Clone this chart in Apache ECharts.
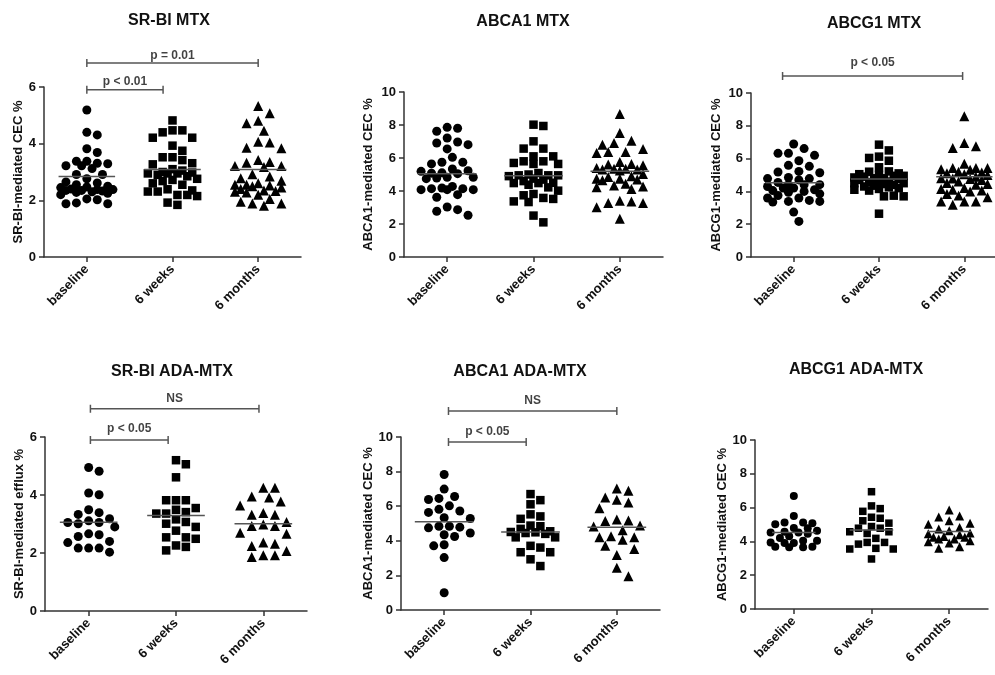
<!DOCTYPE html>
<html><head><meta charset="utf-8">
<script src="https://cdn.jsdelivr.net/npm/echarts@6/dist/echarts.min.js"></script>
<style>html,body{margin:0;padding:0;background:#fff}#c{width:995px;height:675px}</style>
</head><body><div id="c"></div>
<script>
const categories = ['baseline', '6 weeks', '6 months'];
const yTicksStep = 2;

// ---- SR-BI MTX ----
const srbiMtxBaseline = [5.19, 4.40, 4.31, 3.82, 3.69, 3.38, 3.38, 3.31, 3.29, 3.22, 3.22, 3.12, 2.91, 2.91, 2.76, 2.65, 2.61, 2.55, 2.50, 2.47, 2.45, 2.40, 2.38, 2.38, 2.35, 2.35, 2.33, 2.30, 2.28, 2.25, 2.20, 2.05, 2.02, 1.91, 1.88, 1.88];
const srbiMtx6w = [4.82, 4.47, 4.47, 4.40, 4.21, 4.21, 3.93, 3.75, 3.52, 3.52, 3.42, 3.31, 3.27, 3.10, 3.05, 3.00, 2.98, 2.95, 2.95, 2.95, 2.90, 2.85, 2.76, 2.72, 2.68, 2.60, 2.55, 2.39, 2.35, 2.31, 2.31, 2.19, 2.19, 2.15, 1.92, 1.84];
const srbiMtx6m = [5.33, 5.07, 4.81, 4.72, 4.46, 4.07, 4.04, 3.86, 3.84, 3.42, 3.35, 3.33, 3.21, 3.21, 3.18, 2.92, 2.84, 2.78, 2.69, 2.60, 2.55, 2.55, 2.52, 2.50, 2.45, 2.40, 2.35, 2.33, 2.30, 2.28, 2.20, 2.05, 1.95, 1.89, 1.89, 1.81];
const srbiMtxCenters = [2.84, 3.09, 3.09];
const srbiMtxBrackets = [
  {text: 'p = 0.01', from: 0, to: 2, y: 6.85, labelY: 7.09},
  {text: 'p < 0.01', from: 0, to: 0.89, y: 5.9, labelY: 6.19}
];

// ---- ABCA1 MTX ----
const abca1MtxBaseline = [7.86, 7.80, 7.62, 7.21, 6.97, 6.91, 6.81, 6.55, 6.04, 5.74, 5.74, 5.64, 5.33, 5.23, 5.19, 5.10, 5.08, 5.05, 4.83, 4.83, 4.79, 4.75, 4.28, 4.18, 4.14, 4.14, 4.08, 4.08, 4.08, 3.78, 3.62, 3.03, 2.87, 2.77, 2.53];
const abca1Mtx6w = [8.02, 7.94, 7.01, 6.57, 6.57, 6.10, 6.10, 5.80, 5.80, 5.70, 5.64, 5.64, 5.09, 5.00, 4.95, 4.95, 4.95, 4.90, 4.75, 4.69, 4.60, 4.50, 4.48, 4.48, 4.38, 4.22, 4.02, 3.82, 3.74, 3.58, 3.52, 3.37, 3.33, 2.51, 2.10];
const abca1Mtx6m = [8.67, 7.52, 7.05, 6.91, 6.81, 6.55, 6.36, 6.36, 6.30, 5.76, 5.64, 5.60, 5.56, 5.39, 5.35, 5.35, 5.30, 5.30, 5.25, 5.03, 4.89, 4.85, 4.75, 4.75, 4.69, 4.65, 4.44, 4.34, 4.28, 4.22, 4.12, 3.41, 3.37, 3.27, 3.27, 3.01, 2.32];
const abca1MtxCenters = [5.05, 4.93, 5.19];
const abca1MtxBrackets = [];

// ---- ABCG1 MTX ----
const abcg1MtxBaseline = [6.89, 6.61, 6.32, 6.32, 6.20, 5.87, 5.59, 5.53, 5.22, 5.18, 5.14, 4.85, 4.78, 4.78, 4.70, 4.55, 4.41, 4.41, 4.40, 4.30, 4.21, 4.21, 4.10, 4.05, 4.00, 3.95, 3.85, 3.75, 3.60, 3.60, 3.45, 3.39, 3.39, 3.35, 2.74, 2.17];
const abcg1Mtx6w = [6.85, 6.50, 6.12, 6.04, 5.87, 5.47, 5.22, 5.20, 5.10, 5.05, 5.00, 4.95, 4.95, 4.90, 4.85, 4.80, 4.80, 4.75, 4.70, 4.65, 4.60, 4.55, 4.50, 4.50, 4.45, 4.40, 4.35, 4.30, 4.25, 4.20, 4.15, 4.10, 4.05, 3.74, 3.70, 3.70, 2.64];
const abcg1Mtx6m = [8.58, 6.95, 6.75, 6.65, 5.69, 5.43, 5.43, 5.43, 5.35, 5.32, 5.20, 5.15, 5.10, 5.05, 5.00, 4.90, 4.80, 4.78, 4.75, 4.70, 4.60, 4.51, 4.45, 4.40, 4.21, 4.15, 4.10, 4.05, 4.00, 3.84, 3.75, 3.65, 3.39, 3.39, 3.39, 3.19];
const abcg1MtxCenters = [4.53, 4.76, 4.90];
const abcg1MtxBrackets = [
  {text: 'p < 0.05', from: -0.13, to: 1.98, y: 11.04, labelY: 11.86}
];

// ---- SR-BI ADA-MTX ----
const srbiAdaBaseline = [4.95, 4.82, 4.07, 4.01, 3.49, 3.39, 3.33, 3.18, 3.11, 3.05, 3.05, 3.01, 2.90, 2.66, 2.63, 2.57, 2.40, 2.36, 2.17, 2.17, 2.17, 2.03];
const srbiAda6w = [5.20, 5.06, 4.61, 3.82, 3.82, 3.82, 3.55, 3.49, 3.41, 3.36, 3.36, 3.16, 3.07, 3.01, 2.90, 2.77, 2.54, 2.54, 2.49, 2.26, 2.21, 2.09];
const srbiAda6m = [4.25, 4.25, 3.95, 3.91, 3.78, 3.64, 3.38, 3.32, 3.32, 3.07, 2.98, 2.93, 2.93, 2.70, 2.66, 2.36, 2.32, 2.24, 2.07, 1.92, 1.92, 1.86];
const srbiAdaCenters = [3.06, 3.29, 3.01];
const srbiAdaBrackets = [
  {text: 'NS', from: 0.02, to: 1.95, y: 6.97, labelY: 7.31},
  {text: 'p < 0.05', from: 0.02, to: 0.91, y: 5.9, labelY: 6.28}
];

// ---- ABCA1 ADA-MTX ----
const abca1AdaBaseline = [7.83, 6.99, 6.56, 6.45, 6.39, 6.02, 5.82, 5.72, 5.64, 5.33, 5.29, 4.84, 4.84, 4.79, 4.75, 4.45, 4.35, 4.25, 3.77, 3.71, 3.03, 1.00];
const abca1Ada6w = [6.70, 6.35, 6.11, 5.53, 5.41, 5.27, 4.88, 4.84, 4.69, 4.55, 4.51, 4.49, 4.45, 4.40, 4.20, 4.20, 3.71, 3.61, 3.34, 3.34, 2.93, 2.54];
const abca1Ada6m = [7.03, 6.89, 6.50, 6.37, 6.21, 5.88, 5.23, 5.18, 5.14, 4.88, 4.82, 4.61, 4.26, 4.20, 4.20, 4.06, 3.71, 3.52, 3.18, 2.44, 1.95];
const abca1AdaCenters = [5.10, 4.51, 4.79];
const abca1AdaBrackets = [
  {text: 'NS', from: 0.05, to: 2.0, y: 11.5, labelY: 12.08},
  {text: 'p < 0.05', from: 0.05, to: 0.95, y: 9.71, labelY: 10.31}
];

// ---- ABCG1 ADA-MTX ----
const abcg1AdaBaseline = [6.69, 5.51, 5.12, 5.12, 5.08, 5.02, 4.80, 4.78, 4.63, 4.57, 4.53, 4.53, 4.45, 4.30, 4.20, 4.04, 4.04, 3.94, 3.90, 3.90, 3.69, 3.69, 3.65, 3.65];
const abcg1Ada6w = [6.94, 6.10, 5.94, 5.78, 5.43, 5.37, 5.22, 5.08, 4.88, 4.78, 4.78, 4.57, 4.57, 4.47, 4.18, 3.94, 3.94, 3.84, 3.59, 3.55, 3.55, 2.96];
const abcg1Ada6m = [5.86, 5.51, 5.45, 5.22, 5.08, 5.02, 4.82, 4.73, 4.63, 4.50, 4.45, 4.40, 4.29, 4.24, 4.24, 4.14, 4.14, 4.04, 3.98, 3.90, 3.69, 3.59];
const abcg1AdaCenters = [4.53, 4.67, 4.59];
const abcg1AdaBrackets = [];

const panels = [
  {title: 'SR-BI MTX', yName: 'SR-BI-mediated CEC %', yMax: 6, groups: [srbiMtxBaseline, srbiMtx6w, srbiMtx6m], centers: srbiMtxCenters, brackets: srbiMtxBrackets},
  {title: 'ABCA1 MTX', yName: 'ABCA1-mediated CEC %', yMax: 10, groups: [abca1MtxBaseline, abca1Mtx6w, abca1Mtx6m], centers: abca1MtxCenters, brackets: abca1MtxBrackets},
  {title: 'ABCG1 MTX', yName: 'ABCG1-mediated CEC %', yMax: 10, groups: [abcg1MtxBaseline, abcg1Mtx6w, abcg1Mtx6m], centers: abcg1MtxCenters, brackets: abcg1MtxBrackets},
  {title: 'SR-BI ADA-MTX', yName: 'SR-BI-mediated efflux %', yMax: 6, groups: [srbiAdaBaseline, srbiAda6w, srbiAda6m], centers: srbiAdaCenters, brackets: srbiAdaBrackets},
  {title: 'ABCA1 ADA-MTX', yName: 'ABCA1-mediated CEC %', yMax: 10, groups: [abca1AdaBaseline, abca1Ada6w, abca1Ada6m], centers: abca1AdaCenters, brackets: abca1AdaBrackets},
  {title: 'ABCG1 ADA-MTX', yName: 'ABCG1-mediated CEC %', yMax: 10, groups: [abcg1AdaBaseline, abcg1Ada6w, abcg1Ada6m], centers: abcg1AdaCenters, brackets: abcg1AdaBrackets}
];

// layout / style (pixels)
const layout = [
  {left: 44, top: 87, width: 257, height: 170, tx: 169, ty: 21, gap: 18, sym: [9, 8.5, 10], half: 0.33},
  {left: 404, top: 92, width: 259, height: 165, tx: 523, ty: 22, gap: 29, sym: [9, 8.5, 10], half: 0.34},
  {left: 751, top: 93, width: 256, height: 164, tx: 874, ty: 24, gap: 28, sym: [9, 8.5, 10], half: 0.33},
  {left: 45, top: 437, width: 262, height: 174, tx: 172, ty: 372, gap: 19, sym: [9, 8.5, 10], half: 0.33},
  {left: 401, top: 437, width: 259, height: 173, tx: 520, ty: 372, gap: 25, sym: [9, 8.5, 10], half: 0.34},
  {left: 755, top: 440, width: 233, height: 169, tx: 856, ty: 370, gap: 26, sym: [8, 7.5, 9], half: 0.28}
];
const symbols = ['circle', 'rect', 'triangle'];
const FONT = '"Liberation Sans", Arial, sans-serif';
const TXT = '#111';
const AX = '#333';
const SPREAD = 0.33; // max horizontal spread of a swarm, in category widths

// beeswarm: horizontal offsets (in category units) so that markers overlap little
function swarm(values, pxPerUnit, bandPx, sym) {
  const order = values.map((v, i) => i).sort((a, b) => values[b] - values[a]);
  const placed = [];
  const offs = new Array(values.length).fill(0);
  const step = sym * 0.58, minD = sym * 1.1, maxPx = SPREAD * bandPx;
  const cands = [0];
  for (let k = 1; k * step <= maxPx; k++) { cands.push(k * step, -k * step); }
  for (const i of order) {
    const y = values[i] * pxPerUnit;
    let best = 0, bestD = -1;
    for (const c of cands) {
      let d = Infinity;
      for (const p of placed) d = Math.min(d, Math.hypot(p.x - c, p.y - y));
      if (d >= minD) { best = c; bestD = d; break; }
      if (d > bestD) { bestD = d; best = c; }
    }
    offs[i] = best; placed.push({x: best, y});
  }
  return offs.map(o => o / bandPx);
}

const option = {
  animation: false,
  backgroundColor: '#fff',
  textStyle: {fontFamily: FONT},
  grid: [], xAxis: [], yAxis: [], series: [], graphic: []
};

panels.forEach((p, i) => {
  const L = layout[i];
  option.grid.push({left: L.left, top: L.top, width: L.width, height: L.height, containLabel: false, outerBoundsMode: 'none'});
  option.xAxis.push({
    type: 'category', gridIndex: i, data: categories, boundaryGap: true, position: 'bottom',
    axisLine: {show: true, onZero: false, lineStyle: {color: AX, width: 1.5}},
    axisTick: {show: true, alignWithLabel: true, length: 5, lineStyle: {color: AX, width: 1.5}},
    axisLabel: {rotate: 45, margin: 10, interval: 0, color: TXT, fontWeight: 'bold', fontSize: 13, fontFamily: FONT},
    splitLine: {show: false}
  });
  option.xAxis.push({type: 'value', gridIndex: i, min: -0.5, max: 2.5, show: false, axisLine: {onZero: false}});
  option.yAxis.push({
    type: 'value', gridIndex: i, min: 0, max: p.yMax, interval: yTicksStep, position: 'left',
    name: p.yName, nameLocation: 'middle', nameGap: L.gap, nameRotate: 90,
    nameTextStyle: {color: TXT, fontWeight: 'bold', fontSize: 13, fontFamily: FONT},
    axisLine: {show: true, onZero: false, lineStyle: {color: AX, width: 1.5}},
    axisTick: {show: true, length: 5, lineStyle: {color: AX, width: 1.5}},
    axisLabel: {margin: 8, color: TXT, fontWeight: 'bold', fontSize: 13, fontFamily: FONT},
    splitLine: {show: false}
  });
  const pxPerUnit = L.height / p.yMax;
  const band = L.width / 3;
  p.groups.forEach((vals, g) => {
    const offs = swarm(vals, pxPerUnit, band, L.sym[g]);
    option.series.push({
      type: 'scatter', xAxisIndex: 2 * i + 1, yAxisIndex: i,
      symbol: symbols[g], symbolSize: L.sym[g],
      itemStyle: {color: '#000', opacity: 1},
      data: vals.map((v, k) => [g + offs[k], v]), silent: true, z: 2
    });
    option.series.push({
      type: 'line', xAxisIndex: 2 * i + 1, yAxisIndex: i, symbol: 'none',
      lineStyle: {color: '#555', width: 1.5},
      data: [[g - L.half, p.centers[g]], [g + L.half, p.centers[g]]], silent: true, z: 3
    });
  });
  p.brackets.forEach(b => {
    const dv = 4 / pxPerUnit;
    option.series.push({
      type: 'line', xAxisIndex: 2 * i + 1, yAxisIndex: i, symbol: 'none', clip: false,
      lineStyle: {color: '#555', width: 1.5},
      data: [[b.from, b.y - dv], [b.from, b.y + dv], [b.from, b.y], [b.to, b.y], [b.to, b.y + dv], [b.to, b.y - dv]],
      silent: true
    });
    option.series.push({
      type: 'scatter', xAxisIndex: 2 * i + 1, yAxisIndex: i, clip: false,
      symbolSize: 1, itemStyle: {color: 'rgba(0,0,0,0)'},
      label: {show: true, position: 'inside', formatter: b.text, color: TXT, fontWeight: 'bold', fontSize: 12, fontFamily: FONT},
      data: [[(b.from + b.to) / 2, b.labelY]], silent: true
    });
  });
  option.graphic.push({
    type: 'text', x: L.tx, y: L.ty, silent: true,
    style: {text: p.title, fill: TXT, fontSize: 16, fontWeight: 'bold', fontFamily: FONT, align: 'center', verticalAlign: 'middle', textAlign: 'center', textVerticalAlign: 'middle'}
  });
});

const chart = echarts.init(document.getElementById('c'));
chart.setOption(option);
</script>
</body></html>
